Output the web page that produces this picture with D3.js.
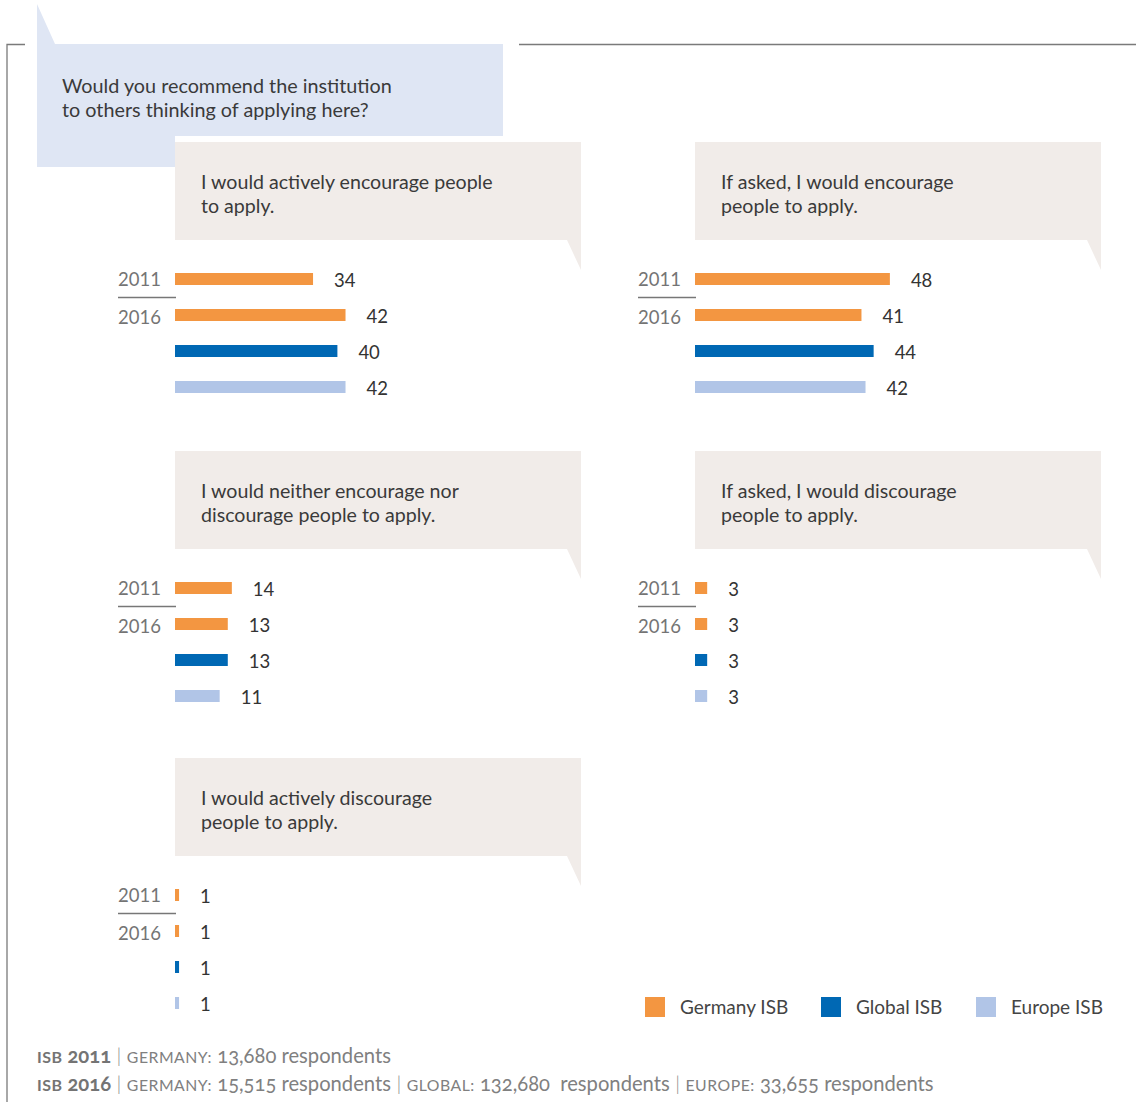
<!DOCTYPE html>
<html>
<head>
<meta charset="utf-8">
<script src="https://cdn.jsdelivr.net/npm/d3@7"></script>
<style>
  html, body { margin: 0; padding: 0; background: #fff; }
  svg { display: block; font-family: Lato, "Open Sans", sans-serif; }
  .foot { white-space: pre; }
</style>
</head>
<body>
<svg id="chart" width="1136" height="1102"></svg>
<script>
// Survey question and answer options
const question = ["Would you recommend the institution", "to others thinking of applying here?"];
const answers = [
  ["I would actively encourage people", "to apply."],
  ["If asked, I would encourage", "people to apply."],
  ["I would neither encourage nor", "discourage people to apply."],
  ["If asked, I would discourage", "people to apply."],
  ["I would actively discourage", "people to apply."]
];

// Share of respondents (%) per answer
const germany2011 = [34, 48, 14, 3, 1];
const germany2016 = [42, 41, 13, 3, 1];
const global2016  = [40, 44, 13, 3, 1];
const europe2016  = [42, 42, 11, 3, 1];

const yearLabels = ["2011", "2016"];
const seriesNames = ["Germany ISB", "Global ISB", "Europe ISB"];
const seriesColors = ["#f39641", "#0068b4", "#b1c5e7"];

// Sample sizes shown in the footnote
const footLines = [
  [["ISB", "headcaps"], [" 2011", "headnum"], [" | ", "sep"], ["GERMANY:", "caps"], [" 13,680 respondents", "num"]],
  [["ISB", "headcaps"], [" 2016", "headnum"], [" | ", "sep"], ["GERMANY:", "caps"], [" 15,515 respondents", "num"], [" | ", "sep"],
   ["GLOBAL:", "caps"], [" 132,680  respondents", "num"], [" | ", "sep"], ["EUROPE:", "caps"], [" 33,655 respondents", "num"]]
];

const svg = d3.select("#chart");

// Frame lines
const frame = svg.append("g").attr("stroke", "#7a7a7a").attr("stroke-width", 1.3).attr("fill", "none");
frame.append("path").attr("d", "M7,1102 V44.5 H25");
frame.append("path").attr("d", "M519,44.5 H1136");

// Question speech bubble
svg.append("path")
  .attr("fill", "#dfe6f4")
  .attr("d", "M37,4 L55,44 H503 V136 H175 V167 H37 Z");
const qText = svg.append("text").attr("fill", "#3a3a3a").attr("font-size", 19.8);
question.forEach((line, i) => {
  qText.append("tspan").attr("x", 62).attr("y", 93 + i * 24).text(line);
});

// Panel layout
const colX = [175, 695];
const rowTop = [142, 451, 758];
const panelW = 406;
const x = d3.scaleLinear().domain([0, 100]).range([0, 406]);

answers.forEach((ans, i) => {
  const x0 = colX[i % 2];
  const top = rowTop[Math.floor(i / 2)];
  const g = svg.append("g");

  // Answer bubble with tail at bottom right
  g.append("path")
    .attr("fill", "#f1ece9")
    .attr("d", `M${x0},${top} H${x0 + panelW} V${top + 128} L${x0 + panelW - 14},${top + 98} H${x0} Z`);
  const t = g.append("text").attr("fill", "#3a3a3a").attr("font-size", 19.6);
  ans.forEach((line, j) => {
    t.append("tspan").attr("x", x0 + 26).attr("y", top + 47 + j * 24).text(line);
  });

  const rows = [
    { key: "g11", v: germany2011[i], c: seriesColors[0] },
    { key: "g16", v: germany2016[i], c: seriesColors[0] },
    { key: "gl16", v: global2016[i], c: seriesColors[1] },
    { key: "eu16", v: europe2016[i], c: seriesColors[2] }
  ];
  const y = d3.scaleBand()
    .domain(rows.map(d => d.key))
    .range([top + 119, top + 263])
    .paddingInner(2 / 3)
    .paddingOuter(1 / 3);

  g.selectAll("rect.bar").data(rows).join("rect")
    .attr("class", "bar")
    .attr("x", x0 + x(0))
    .attr("y", d => y(d.key))
    .attr("width", d => x(d.v) - x(0))
    .attr("height", y.bandwidth())
    .attr("fill", d => d.c);

  g.selectAll("text.val").data(rows).join("text")
    .attr("class", "val")
    .attr("x", d => x0 + x(d.v) + 21)
    .attr("y", d => y(d.key) + y.bandwidth() / 2 + 8)
    .attr("fill", "#333")
    .attr("font-size", 18.5)
    .text(d => d.v);

  // Year labels with divider
  const yrRows = ["g11", "g16"];
  const yrShift = [7, 9];
  yearLabels.forEach((yr, k) => {
    g.append("text")
      .attr("x", x0 - 57)
      .attr("y", y(yrRows[k]) + y.bandwidth() / 2 + yrShift[k])
      .attr("fill", "#747474")
      .attr("font-size", 18.5)
      .text(yr);
  });
  g.append("line")
    .attr("x1", x0 - 57).attr("x2", x0 + 1)
    .attr("y1", top + 155.5).attr("y2", top + 155.5)
    .attr("stroke", "#777").attr("stroke-width", 1.3);
});

// Legend
const legendX = [645, 821, 976];
const lg = svg.append("g");
seriesNames.forEach((name, i) => {
  lg.append("rect").attr("x", legendX[i]).attr("y", 997).attr("width", 20).attr("height", 20).attr("fill", seriesColors[i]);
  lg.append("text").attr("x", legendX[i] + 35).attr("y", 1014).attr("fill", "#444").attr("font-size", 19).text(name);
});

// Footnote: caps set small, figures old-style
footLines.forEach((parts, li) => {
  const t = svg.append("text")
    .attr("class", "foot")
    .attr("x", 37).attr("y", 1063 + li * 28)
    .attr("fill", "#808080").attr("font-size", 20.2)
    .style("font-variant-numeric", "oldstyle-nums");
  parts.forEach(([txt, kind]) => {
    const s = t.append("tspan").text(txt);
    if (kind === "headcaps") s.attr("font-size", 16).attr("font-weight", 700).attr("letter-spacing", 0.5).attr("fill", "#747474");
    if (kind === "headnum") s.attr("font-weight", 700).attr("fill", "#747474");
    if (kind === "caps") s.attr("font-size", 15.8).attr("letter-spacing", 0.5);
    if (kind === "sep") s.attr("font-weight", 300).attr("fill", "#8a8a8a");
  });
});
</script>
</body>
</html>
